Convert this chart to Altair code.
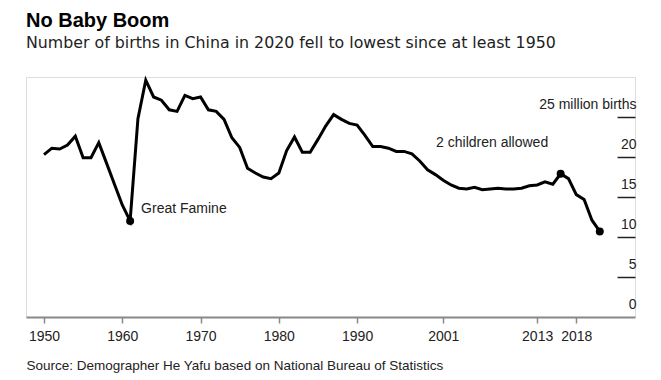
import altair as alt
import pandas as pd

FONT = "Liberation Sans"

years = list(range(1950, 2022))
births = [
    20.3, 21.1, 21.0, 21.5, 22.6, 19.9, 19.9, 21.8, 19.2, 16.6,
    14.0, 12.0, 24.8, 29.6, 27.5, 27.1, 25.9, 25.7, 27.7, 27.3,
    27.5, 25.9, 25.7, 24.7, 22.4, 21.2, 18.6, 18.0, 17.5, 17.3,
    18.0, 20.8, 22.5, 20.6, 20.6, 22.2, 23.9, 25.3, 24.7, 24.2,
    24.0, 22.7, 21.3, 21.3, 21.1, 20.7, 20.7, 20.4, 19.5, 18.4,
    17.8, 17.1, 16.5, 16.1, 16.0, 16.2, 15.9, 16.0, 16.1, 16.0,
    16.0, 16.1, 16.4, 16.5, 16.9, 16.6, 17.9, 17.3, 15.3, 14.7,
    12.1, 10.7,
]

dot_years = [1961, 2016, 2021]
x_ticks = [1950, 1960, 1970, 1980, 1990, 2001, 2013, 2018]
y_ticks = [0, 5, 10, 15, 20, 25]

famine_label = ["Great Famine"]
famine_year = [1961]
policy_label = ["2 children allowed"]
policy_year = [2016]

df = pd.DataFrame({"year": years, "births": births})
dots = df[df["year"].isin(dot_years)]
lookup = dict(zip(years, births))
famine_df = pd.DataFrame({"label": famine_label, "year": famine_year,
                          "births": [lookup[y] for y in famine_year]})
policy_df = pd.DataFrame({"label": policy_label, "year": policy_year,
                          "births": [lookup[y] for y in policy_year]})

x_scale = alt.Scale(domain=[1947.7, 2025.5], nice=False, zero=False)
y_scale = alt.Scale(domain=[0, 30], nice=False)

x_axis = alt.Axis(
    values=x_ticks, format="d", grid=False,
    labelFontSize=14, labelColor="#222222", labelFont=FONT, labelPadding=6,
    tickColor="#888888", tickSize=6, tickWidth=1.5,
    domainColor="#888888", domainWidth=2,
    title="Source: Demographer He Yafu based on National Bureau of Statistics",
    titleFont=FONT, titleFontSize=13.5, titleFontWeight="normal", titleColor="#222222",
    titleAnchor="start", titleAlign="left", titlePadding=15,
)
y_axis = alt.Axis(
    orient="right", values=y_ticks, grid=False, domain=False, offset=-18,
    tickSize=18, tickColor="#222222", tickWidth=1.5,
    tickOpacity={"condition": {"test": "datum.value === 0", "value": 0}, "value": 1},
    labelAlign="right", labelBaseline="alphabetic", labelPadding=1, labelOffset=-9,
    labelFontSize=14, labelColor="#222222", labelFont=FONT,
    labelExpr="datum.value == 25 ? '25 million births' : datum.label",
    title=None,
)

base = alt.Chart(df)
line = base.mark_line(color="black", strokeWidth=3).encode(
    x=alt.X("year:Q", scale=x_scale, axis=x_axis),
    y=alt.Y("births:Q", scale=y_scale, axis=y_axis),
)
points = alt.Chart(dots).mark_circle(color="black", size=64, opacity=1).encode(
    x=alt.X("year:Q", scale=x_scale),
    y=alt.Y("births:Q", scale=y_scale),
)
famine_text = alt.Chart(famine_df).mark_text(
    align="left", baseline="alphabetic", dx=11, dy=-8,
    fontSize=14, font=FONT, color="#222222",
).encode(x=alt.X("year:Q", scale=x_scale), y=alt.Y("births:Q", scale=y_scale), text="label:N")
policy_text = alt.Chart(policy_df).mark_text(
    align="center", baseline="alphabetic", dx=-68.5, dy=-26.5,
    fontSize=14, font=FONT, color="#222222",
).encode(x=alt.X("year:Q", scale=x_scale), y=alt.Y("births:Q", scale=y_scale), text="label:N")

chart = alt.layer(line, points, famine_text, policy_text).properties(
    width=609, height=240,
    padding={"left": 18, "top": 69, "right": 10, "bottom": 62},
    autosize=alt.AutoSizeParams(type="none"),
    title=alt.TitleParams(
        text="No Baby Boom",
        subtitle="Number of births in China in 2020 fell to lowest since at least 1950",
        anchor="start", font=FONT, fontSize=20, fontWeight="bold", color="#000000",
        subtitleFont="DejaVu Sans", subtitleFontSize=15.8, subtitleColor="#222222",
        subtitlePadding=5, offset=23,
    ),
).configure_view(stroke=None).configure(background="white")

chart.save("out.html", embed_options={"renderer": "svg", "actions": False})
